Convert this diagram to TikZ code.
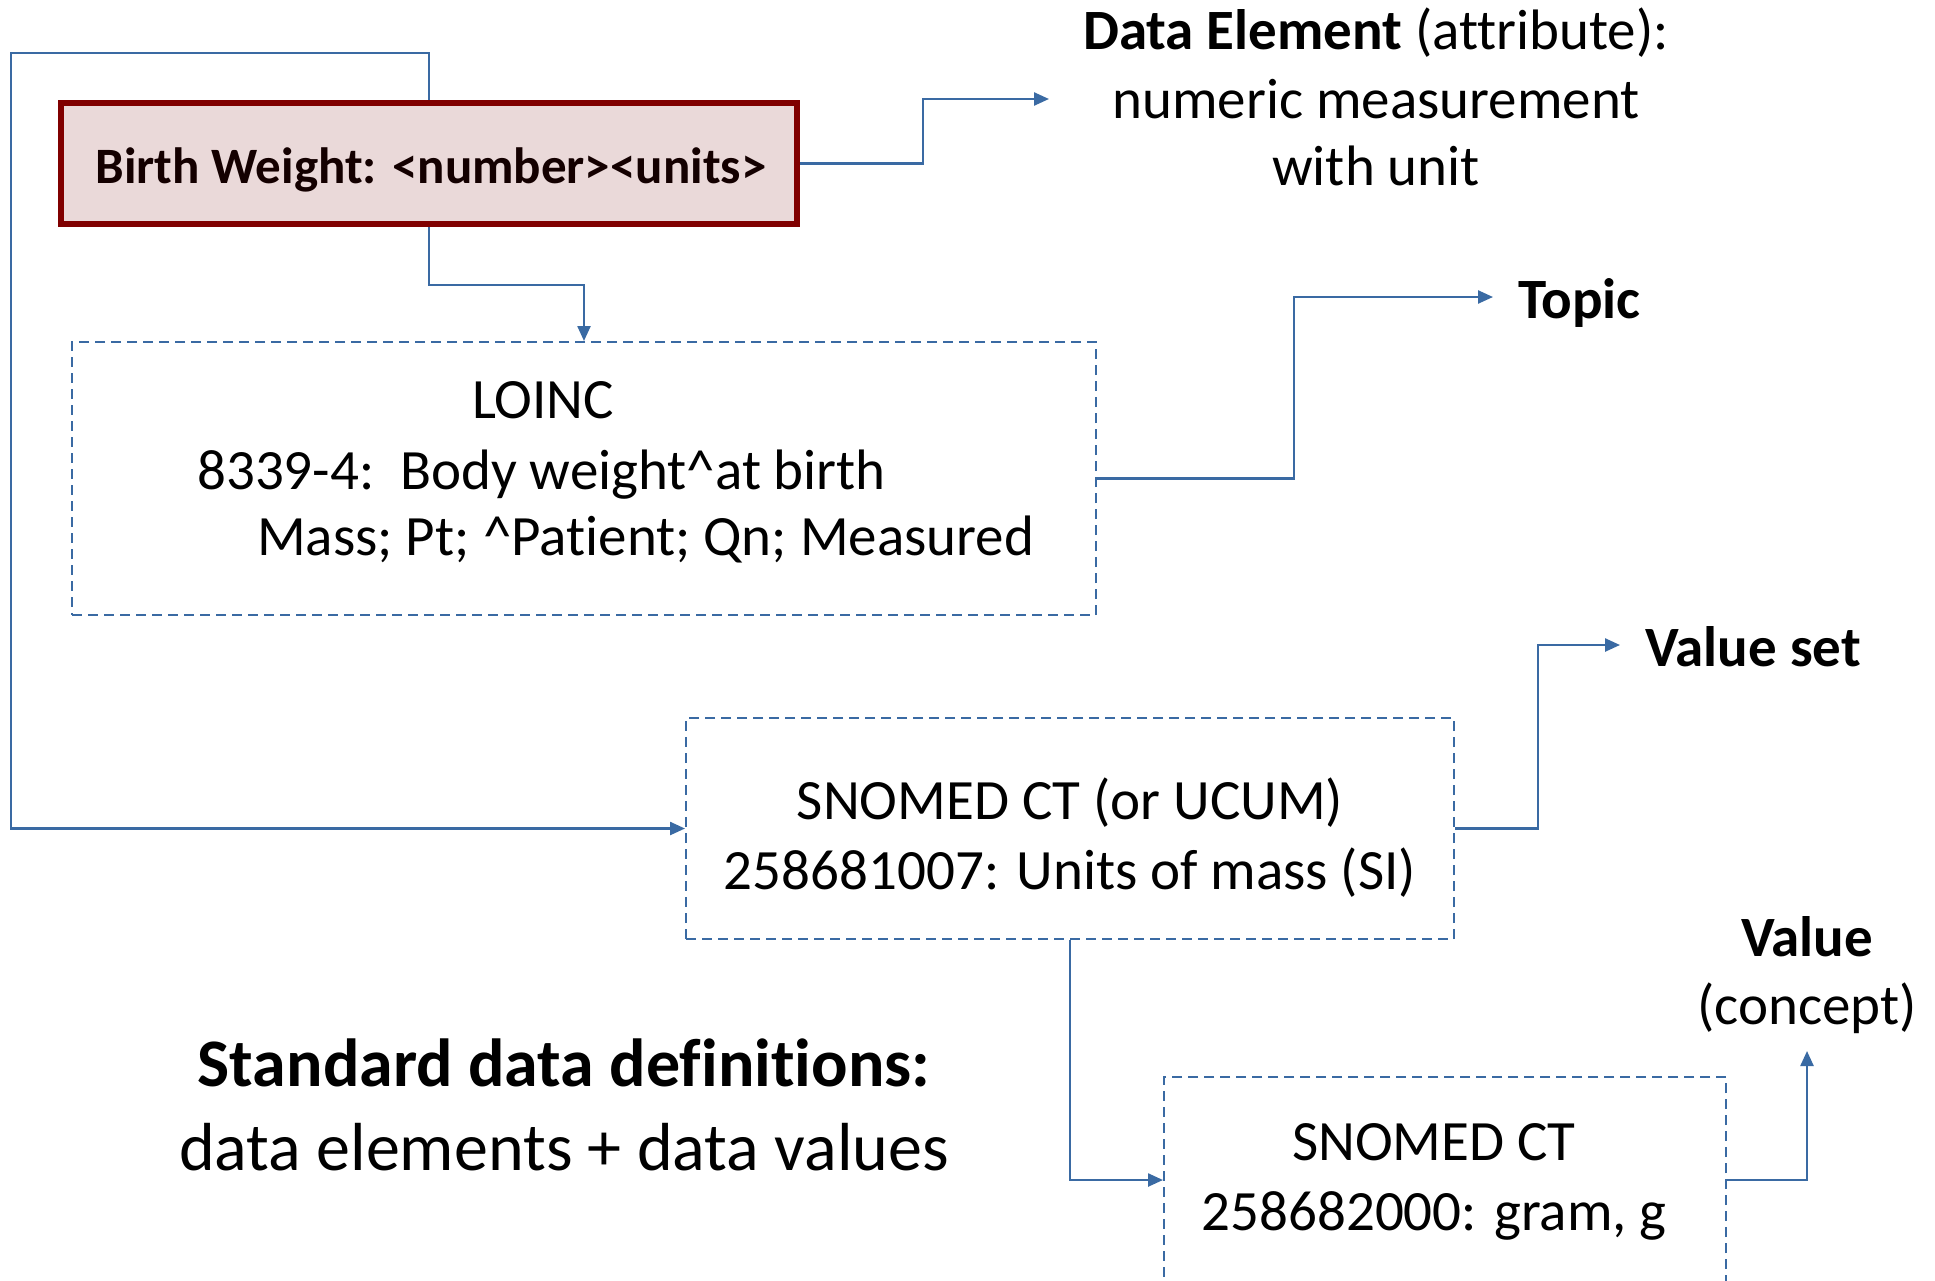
\documentclass[tikz,border=0pt]{standalone}
\usepackage{fontspec}
\setmainfont{Carlito}[Ligatures=NoCommon]
\usetikzlibrary{arrows.meta}
\definecolor{lineblue}{RGB}{58,106,163}
\definecolor{darkred}{RGB}{128,0,0}
\definecolor{pinkfill}{RGB}{234,217,217}
\definecolor{bwtext}{RGB}{20,0,0}
\begin{document}
\begin{tikzpicture}[x=1pt,y=-1pt,
  conn/.style={draw=lineblue,line width=2.4pt},
  arr/.style={conn,-{Triangle[length=15pt,width=13pt]}},
  dbox/.style={draw=lineblue,line width=2pt,dash pattern=on 10pt off 6pt,rectangle,inner sep=0pt},
  body/.style={font=\fontsize{57}{68}\selectfont,inner sep=0pt,anchor=base},
  bodyb/.style={font=\fontsize{57}{68}\selectfont\bfseries,inner sep=0pt,anchor=base},
]
\useasboundingbox (0,0) rectangle (1935,1280);
\clip (0,0) rectangle (1935,1280);
\fill[white] (0,0) rectangle (1935,1280);

% Birth weight box
\node[draw=darkred,fill=pinkfill,line width=4pt,rectangle,inner sep=0pt,
  minimum width=734pt,minimum height=119pt] (bw) at (429,163.5) {};
\node[font=\fontsize{51}{61}\selectfont\bfseries,text=bwtext,inner sep=0pt,anchor=base] (bwt) at (431,183) {Birth Weight: <number><units>};

% LOINC box
\node[dbox,minimum width=1024pt,minimum height=273pt] (loinc) at (584,478.5) {};
\node[body] (l1) at (543,418) {LOINC};
\node[body,anchor=base west] (l2) at (197,489) {8339-4:\ \ Body weight\textasciicircum at birth};
\node[body,anchor=base west] (l3) at (257,555) {Mass; Pt; \textasciicircum Patient; Qn; Measured};

% SNOMED box 1
\node[dbox,minimum width=768pt,minimum height=221pt] (sn1) at (1070,828.5) {};
\node[body] (s1a) at (1070,819) {SNOMED CT (or UCUM)};
\node[body] (s1b) at (1070,889) {258681007: Units of mass (SI)};

% SNOMED box 2
\node[dbox,minimum width=562pt,minimum height=206pt] (sn2) at (1445,1180) {};
\node[body] (s2a) at (1434,1160) {SNOMED CT};
\node[body] (s2b) at (1434,1230) {258682000: gram, g};

% labels
\node[body] (de1) at (1376,49) {\textbf{Data Element} (attribute):};
\node[body] (de2) at (1376,118) {numeric measurement};
\node[body] (de3) at (1376,185) {with unit};
\node[bodyb,anchor=base west] (topic) at (1518,318) {Topic};
\node[bodyb,anchor=base west] (vset) at (1645,666) {Value set};
\node[bodyb] (val) at (1807,956) {Value};
\node[body] (conc) at (1807,1024) {(concept)};
\node[font=\fontsize{68}{82}\selectfont\bfseries,inner sep=0pt,anchor=base] (std1) at (564,1086) {Standard data definitions:};
\node[font=\fontsize{68}{82}\selectfont,inner sep=0pt,anchor=base] (std2) at (564,1170) {data elements + data values};

% coordinates
\coordinate (c1) at (11,53);
\coordinate (c2) at (923,99);
\coordinate (deTip) at (1049,99);
\coordinate (c4) at (1294,297);
\coordinate (topicTip) at (1493,297);
\coordinate (c5) at (1538,645);
\coordinate (vsTip) at (1620,645);
\coordinate (valTip) at (1807,1051);

% connectors
\draw[arr] (bw.north) |- (c1) |- (sn1.west);
\draw[arr] (bw.east) -| (c2) -- (deTip);
\draw[arr] (bw.south) -- ++(0,60) -| (loinc.north);
\draw[arr] (loinc.east) -| (c4) -- (topicTip);
\draw[arr] (sn1.east) -| (c5) -- (vsTip);
\draw[arr] (sn1.south) |- (sn2.west);
\draw[arr] (sn2.east) -| (valTip);

% redraw box border on top of connector
\draw[darkred,line width=4pt] (bw.south west) rectangle (bw.north east);
\end{tikzpicture}
\end{document}
